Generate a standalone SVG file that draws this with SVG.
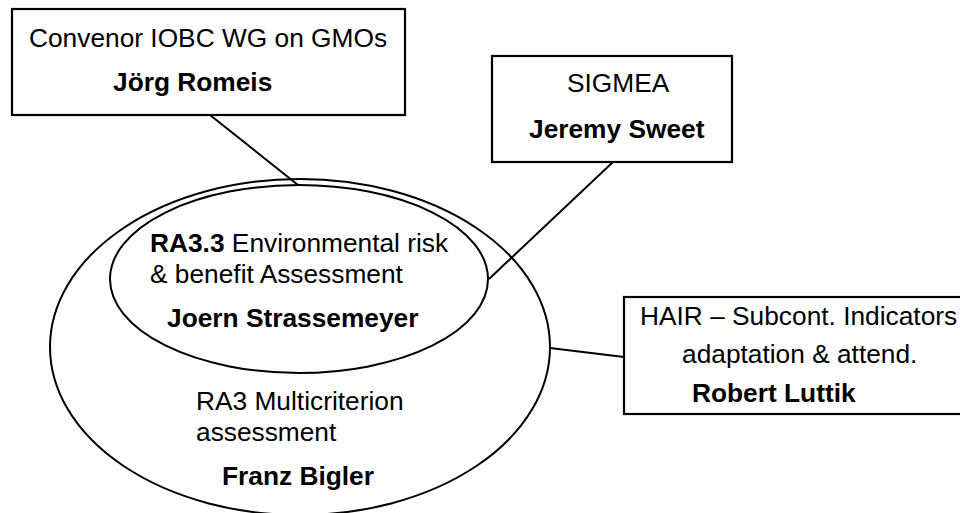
<svg xmlns="http://www.w3.org/2000/svg" width="960" height="513" viewBox="0 0 960 513">
<style>
.shape{fill:none;stroke:#000;stroke-width:2}
.box{fill:#fff;stroke:#000;stroke-width:2.2}
.conn{stroke:#000;stroke-width:2;fill:none}
text{font-family:"Liberation Sans",Arial,sans-serif;font-size:26.3px;fill:#000}
.b{font-weight:bold}
</style>
<rect width="960" height="513" fill="#fff"/>
<g id="connectors">
<line class="conn" x1="210" y1="115" x2="298" y2="185"/>
<line class="conn" x1="613" y1="162" x2="489" y2="279"/>
<line class="conn" x1="550" y1="348" x2="624" y2="357"/>
</g>
<g id="ra3">
<ellipse class="shape" cx="300" cy="347" rx="250" ry="168"/>
<text x="196" y="410">RA3 Multicriterion</text>
<text x="196" y="441">assessment</text>
<text class="b" x="222" y="485">Franz Bigler</text>
</g>
<g id="ra33">
<ellipse class="shape" cx="299" cy="279" rx="189" ry="94"/>
<text x="150" y="252"><tspan class="b">RA3.3</tspan> Environmental risk</text>
<text x="150" y="283">&amp; benefit Assessment</text>
<text class="b" x="167" y="327">Joern Strassemeyer</text>
</g>
<g id="iobc">
<rect class="box" x="12" y="9" width="393" height="106"/>
<text x="29" y="47">Convenor IOBC WG on GMOs</text>
<text class="b" x="113" y="91">Jörg Romeis</text>
</g>
<g id="sigmea">
<rect class="box" x="492" y="56" width="240" height="106"/>
<text x="567" y="92">SIGMEA</text>
<text class="b" x="529" y="138">Jeremy Sweet</text>
</g>
<g id="hair">
<rect class="box" x="624" y="297" width="345" height="117"/>
<text x="640" y="325">HAIR – Subcont. Indicators</text>
<text x="682" y="363">adaptation &amp; attend.</text>
<text class="b" x="692" y="402">Robert Luttik</text>
</g>
</svg>
